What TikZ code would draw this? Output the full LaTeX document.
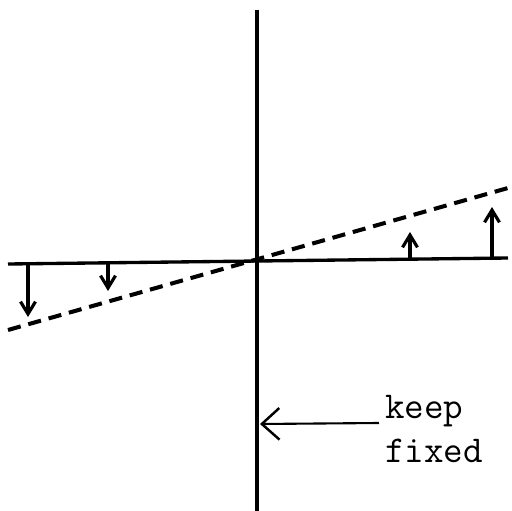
\documentclass[tikz,border=0pt]{standalone}
\usetikzlibrary{arrows.meta}
\begin{document}
\begin{tikzpicture}[x=0.02cm,y=-0.02cm,
  axisline/.style={line width=2.3pt},
  hline/.style={line width=1.9pt},
  tilted/.style={line width=2.3pt, dash pattern=on 7.5pt off 4.5pt},
  shiftarrow/.style={line width=1.8pt, -{Straight Barb[length=7pt,width=8.5pt,line width=1.8pt]}},
  pointer/.style={line width=1.2pt, -{Straight Barb[length=10pt,width=18pt,line width=1.4pt]}},
  lbl/.style={font=\ttfamily\fontsize{21.6}{26}\selectfont, inner sep=0pt, anchor=base west}]
\useasboundingbox (0,0) rectangle (512,511);
% axes
\coordinate (top) at (257,10);
\coordinate (bot) at (257,511);
\coordinate (hl) at (8,264);
\coordinate (hr) at (508,258);
\coordinate (dl) at (8,330);
\coordinate (dr) at (508,188);
\draw[axisline] (top) -- (bot);
\draw[hline] (hl) -- (hr);
\draw[tilted] (dl) -- (dr);
% shift arrows
\coordinate (a1s) at (28,264);   \coordinate (a1e) at (28,317);
\coordinate (a2s) at (108,263);  \coordinate (a2e) at (108,291);
\coordinate (a3s) at (410,259);  \coordinate (a3e) at (410,232);
\coordinate (a4s) at (492,258);  \coordinate (a4e) at (492,207);
\draw[shiftarrow] (a1s) -- (a1e);
\draw[shiftarrow] (a2s) -- (a2e);
\draw[shiftarrow] (a3s) -- (a3e);
\draw[shiftarrow] (a4s) -- (a4e);
% label
\node[lbl] (keep) at (385,418) {keep};
\node[lbl] (fixed) at (385,462) {fixed};
\coordinate (ps) at (379,423);
\coordinate (pe) at (260,424);
\draw[pointer] (ps) -- (pe);
\end{tikzpicture}
\end{document}
